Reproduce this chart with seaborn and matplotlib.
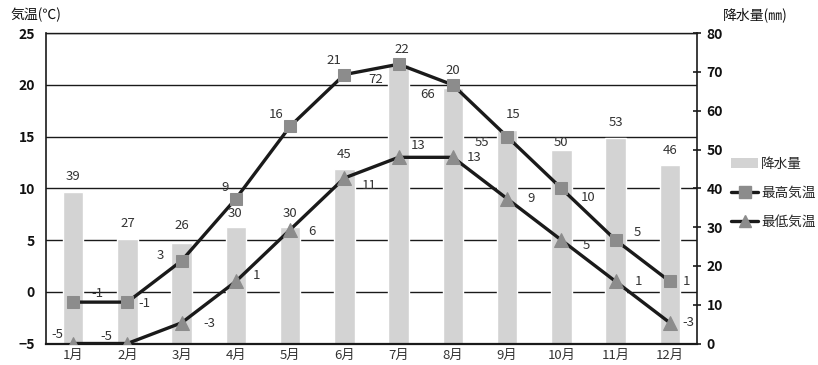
import numpy as np
import pandas as pd
import matplotlib
matplotlib.use("Agg")
import matplotlib.pyplot as plt
import matplotlib.transforms as mtransforms
from matplotlib.lines import Line2D
from matplotlib.patches import Patch
import seaborn as sns

# Monthly climate data
months = ["1月", "2月", "3月", "4月", "5月", "6月",
          "7月", "8月", "9月", "10月", "11月", "12月"]
precip = [39, 27, 26, 30, 30, 45, 72, 66, 55, 50, 53, 46]
t_max = [-1, -1, 3, 9, 16, 21, 22, 20, 15, 10, 5, 1]
t_min = [-5, -5, -3, 1, 6, 11, 13, 13, 9, 5, 1, -3]
temp_ticks = [-5, 0, 5, 10, 15, 20, 25]
precip_ticks = [0, 10, 20, 30, 40, 50, 60, 70, 80]

# label offsets in pixels (dx, dy; dy positive = up)
off_max = [(24, 9), (17, -1), (-21, 5), (-11, 11), (-14, 12), (-11, 14),
           (3, 15), (0, 14), (6, 22), (27, -9), (22, 8), (17, 0)]
off_min = [(-16, 9), (-21, 7), (28, -1), (21, 6), (22, -2), (25, -7),
           (20, 12), (21, 0), (24, 0), (25, -5), (23, 0), (19, 0)]
off_bar = [(0, 16), (0, 15), (0, 17), (-1, 14), (0, 14), (0, 14),
           (-23, -15), (-25, -7), (-25, -12), (0, 7), (0, 15), (0, 15)]

sns.set_theme(style="white")
plt.rcParams["font.family"] = ["Noto Sans CJK JP", "DejaVu Sans"]

BAR = "#d3d3d3"
MARK = "#8c8c8c"
LINE = "#1a1a1a"
TXT = "#333333"

fig = plt.figure(figsize=(8.18, 3.65), dpi=100)
ax_t = fig.add_axes([46 / 818, 1 - 343.5 / 365, (697 - 46) / 818, (343.5 - 33.2) / 365])
ax_p = ax_t.twinx()
ax_t.set_zorder(2)
ax_p.set_zorder(1)
ax_t.patch.set_visible(False)

df = pd.DataFrame({"month": months, "pos": np.arange(len(months)),
                   "precip": precip, "tmax": t_max, "tmin": t_min})

# precipitation bars on the right-hand axis
sns.barplot(data=df, x="month", y="precip", ax=ax_p, color=BAR,
            saturation=1, width=0.38, zorder=2)
ax_p.set_ylim(0, 80)
ax_p.set_yticks(precip_ticks)
ax_p.set_xlim(-0.5, 11.5)

# horizontal grid at temperature ticks, drawn behind the bars
grid_tr = mtransforms.blended_transform_factory(ax_p.transAxes, ax_t.transData)
for t in temp_ticks[1:]:
    ax_p.add_line(Line2D([0, 1], [t, t], transform=grid_tr, color="#1a1a1a",
                         lw=1.0, zorder=1))

# temperature lines on the left-hand axis
sns.lineplot(data=df, x="pos", y="tmax", ax=ax_t, color=LINE, lw=2.4,
             marker="s", markersize=9, markerfacecolor=MARK,
             markeredgecolor=MARK, sort=False, zorder=3)
sns.lineplot(data=df, x="pos", y="tmin", ax=ax_t, color=LINE, lw=2.4,
             marker="^", markersize=10, markerfacecolor=MARK,
             markeredgecolor=MARK, sort=False, zorder=3)
ax_t.set_ylim(-5, 25)
ax_t.set_yticks(temp_ticks)
ax_t.set_xlim(-0.5, 11.5)
ax_t.set_xticks(np.arange(len(months)))
ax_t.set_xticklabels(months)

for a in (ax_t, ax_p):
    a.set_xlabel("")
    a.set_ylabel("")

# data labels
for i in range(len(months)):
    ax_t.annotate(str(t_max[i]), (i, t_max[i]), xytext=off_max[i],
                  textcoords="offset pixels", ha="center", va="center",
                  fontsize=9.5, color=TXT, zorder=5)
    ax_t.annotate(str(t_min[i]), (i, t_min[i]), xytext=off_min[i],
                  textcoords="offset pixels", ha="center", va="center",
                  fontsize=9.5, color=TXT, zorder=5)
    ax_p.annotate(str(precip[i]), (i, precip[i]), xytext=off_bar[i],
                  textcoords="offset pixels", ha="center", va="center",
                  fontsize=9.5, color=TXT, zorder=5)

# spines and ticks
for a in (ax_t, ax_p):
    for s in a.spines.values():
        s.set_visible(False)
ax_t.spines["left"].set_visible(True)
ax_t.spines["left"].set_color("#1a1a1a")
ax_t.spines["left"].set_linewidth(1.2)
ax_t.spines["bottom"].set_visible(True)
ax_t.spines["bottom"].set_color("#1a1a1a")
ax_t.spines["bottom"].set_linewidth(1.6)
ax_t.spines["top"].set_visible(True)
ax_t.spines["top"].set_color("#1a1a1a")
ax_t.spines["top"].set_linewidth(1.0)
ax_p.spines["right"].set_visible(True)
ax_p.spines["right"].set_color("#1a1a1a")
ax_p.spines["right"].set_linewidth(1.2)

ax_t.tick_params(axis="y", left=False, right=False, length=0,
                 labelleft=True, labelright=False, pad=8, labelsize=10,
                 labelcolor="#111111")
ax_t.tick_params(axis="x", bottom=False, length=0, pad=4, labelsize=9.5,
                 labelcolor=TXT)
ax_p.tick_params(axis="y", right=True, left=False, direction="inout",
                 length=6, width=1.2, color="#1a1a1a", pad=4, labelsize=10,
                 labelcolor="#111111")
ax_p.tick_params(axis="x", bottom=False, labelbottom=False)
for lab in ax_t.get_yticklabels() + ax_p.get_yticklabels():
    lab.set_fontweight("bold")

# axis titles
fig.text(10 / 818, 1 - 15 / 365, "気温(℃)", fontsize=10, color="#111111",
         ha="left", va="center")
fig.text(788 / 818, 1 - 15 / 365, "降水量(㎜)", fontsize=10, color="#111111",
         ha="right", va="center")

# legend
handles = [Patch(facecolor=BAR, edgecolor="none"),
           Line2D([], [], color=LINE, lw=2.4, marker="s", markersize=8,
                  markerfacecolor=MARK, markeredgecolor=MARK),
           Line2D([], [], color=LINE, lw=2.4, marker="^", markersize=9,
                  markerfacecolor=MARK, markeredgecolor=MARK)]
fig.legend(handles, ["降水量", "最高気温", "最低気温"], loc="upper left",
           bbox_to_anchor=(731 / 818, 1 - 157 / 365), frameon=False,
           fontsize=9.8, handlelength=2.0, handletextpad=0.2,
           labelspacing=1.1, borderaxespad=0, borderpad=0)

fig.savefig("out.png", dpi=100)
